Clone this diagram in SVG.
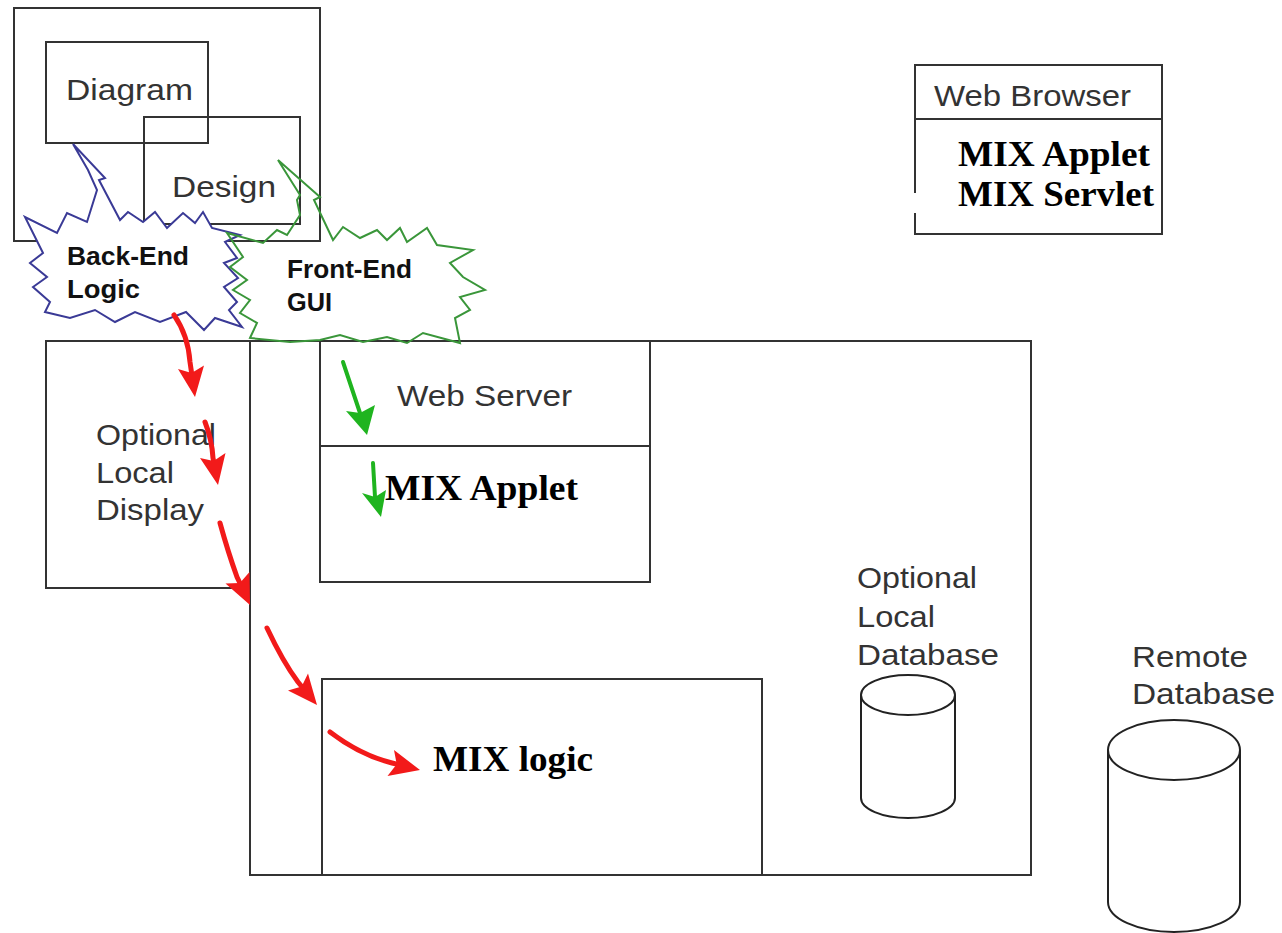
<svg xmlns="http://www.w3.org/2000/svg" width="1282" height="933" viewBox="0 0 1282 933">
<style>
.box{fill:none;stroke:#333;stroke-width:2}
.lbl{font-family:"Liberation Sans",Arial,sans-serif;fill:#333;font-size:30px}
.bold{font-family:"Liberation Sans",Arial,sans-serif;font-weight:bold;fill:#111;font-size:25px}
.mix{font-family:"Liberation Serif","Times New Roman",serif;font-weight:bold;fill:#000;font-size:35px}
.red{fill:none;stroke:#f21a1a;stroke-width:5;stroke-linecap:round}
.redh{fill:#f21a1a;stroke:none}
.grn{fill:none;stroke:#1fb41f;stroke-width:4;stroke-linecap:round}
.grnh{fill:#1fb41f;stroke:none}
.cyl{fill:none;stroke:#222;stroke-width:2}
</style>
<rect width="1282" height="933" fill="#fff"/>

<g id="tool-frame"><rect class="box" x="14" y="8" width="306" height="233"/></g>
<g id="diagram"><rect class="box" x="46" y="42" width="162" height="101"/><text class="lbl" x="66" y="100" textLength="127" lengthAdjust="spacingAndGlyphs">Diagram</text></g>
<g id="design"><rect class="box" x="144" y="117" width="156" height="107"/><text class="lbl" x="172" y="197" textLength="104" lengthAdjust="spacingAndGlyphs">Design</text></g>

<g id="back-end-logic">
<polygon fill="#fff" stroke="#3a3a96" stroke-width="2" points="73,144 105,178 99,180 120,220 128,212 143,222 155,212 167,228 183,213 195,223 203,212 212,228 240,235 225,242 237,258 224,263 238,278 224,287 237,302 229,310 242,327 215,318 204,330 186,312 160,322 135,312 115,322 95,310 70,318 45,312 50,302 33,287 47,277 30,263 43,253 25,217 57,233 67,213 87,222 97,190 88,170"/>
<text class="bold" x="67" y="265" textLength="122" lengthAdjust="spacingAndGlyphs">Back-End</text>
<text class="bold" x="67" y="298" textLength="73" lengthAdjust="spacingAndGlyphs">Logic</text>
</g>

<g id="web-browser">
<path class="box" d="M915,193 V65 H1162 V234 H915 V213 M915,119 H1162"/>
<text class="lbl" x="934" y="106" textLength="197" lengthAdjust="spacingAndGlyphs">Web Browser</text>
<text class="mix" x="958" y="166" textLength="192" lengthAdjust="spacingAndGlyphs">MIX Applet</text>
<text class="mix" x="958" y="206" textLength="196" lengthAdjust="spacingAndGlyphs">MIX Servlet</text>
</g>

<g id="server-machine"><rect class="box" x="250" y="341" width="781" height="534"/></g>

<g id="optional-local-display">
<rect class="box" x="46" y="341" width="204" height="247"/>
<text class="lbl" x="96" y="445" textLength="120" lengthAdjust="spacingAndGlyphs">Optional</text>
<text class="lbl" x="96" y="483" textLength="78" lengthAdjust="spacingAndGlyphs">Local</text>
<text class="lbl" x="96" y="520" textLength="108" lengthAdjust="spacingAndGlyphs">Display</text>
</g>

<g id="web-server">
<path class="box" d="M320,341 V582 H650 V341 M320,446 H650"/>
<text class="lbl" x="397" y="406" textLength="175" lengthAdjust="spacingAndGlyphs">Web Server</text>
<text class="mix" x="385" y="500" textLength="193" lengthAdjust="spacingAndGlyphs">MIX Applet</text>
</g>

<g id="front-end-gui">
<polygon fill="none" stroke="#3a963a" stroke-width="2" points="278,160 320,197 314,200 333,240 343,227 360,238 377,230 387,240 400,228 407,242 427,228 437,245 473,250 450,263 463,277 485,290 460,297 470,310 455,318 460,343 423,333 407,343 387,337 363,342 340,335 320,340 290,342 250,338 257,323 240,313 250,300 233,290 247,280 230,267 243,257 227,233 263,243 277,230 287,235 300,215 297,200 300,195"/>
<text class="bold" x="287" y="278" textLength="125" lengthAdjust="spacingAndGlyphs">Front-End</text>
<text class="bold" x="287" y="311" textLength="45" lengthAdjust="spacingAndGlyphs">GUI</text>
</g>

<g id="mix-logic">
<path class="box" d="M322,875 V679 H762 V875"/>
<text class="mix" x="433" y="771" font-size="36" textLength="160" lengthAdjust="spacingAndGlyphs">MIX logic</text>
</g>

<g id="optional-local-database">
<text class="lbl" x="857" y="588" textLength="120" lengthAdjust="spacingAndGlyphs">Optional</text>
<text class="lbl" x="857" y="627" textLength="78" lengthAdjust="spacingAndGlyphs">Local</text>
<text class="lbl" x="857" y="665" textLength="142" lengthAdjust="spacingAndGlyphs">Database</text>
<ellipse class="cyl" cx="908" cy="695" rx="47" ry="20"/>
<path class="cyl" d="M861,695 V798 A47,20 0 0 0 955,798 V695"/>
</g>

<g id="remote-database">
<text class="lbl" x="1132" y="667" textLength="116" lengthAdjust="spacingAndGlyphs">Remote</text>
<text class="lbl" x="1132" y="704" textLength="143" lengthAdjust="spacingAndGlyphs">Database</text>
<ellipse class="cyl" cx="1174" cy="750" rx="66" ry="30"/>
<path class="cyl" d="M1108,750 V902 A66,30 0 0 0 1240,902 V750"/>
</g>

<g id="connectors">
<path class="red" d="M174,315 Q188,335 190,362 L191.6,373"/>
<polygon class="redh" points="195,397 178,369 191.6,373 204,365.5"/>
<path class="red" d="M205,422 Q212,440 213,458 L213.6,461"/>
<polygon class="redh" points="218,485 200,458 213.6,461 225.5,453"/>
<path class="red" d="M220,523 Q228,552 237,577 L239.9,583"/>
<polygon class="redh" points="250,605 225.5,583.5 239.9,583 249.5,572"/>
<path class="red" d="M267,628 Q283,662 298,682 L301.7,686.5"/>
<polygon class="redh" points="317,705 288,690.5 301.7,686.5 308,673.5"/>
<path class="red" d="M330,732 Q360,755 392,763 L396.7,764.2"/>
<polygon class="redh" points="420,770 387.5,776 396.7,764.2 394,750"/>
<path class="grn" d="M343,362 L360,413"/>
<polygon class="grnh" points="367,435 346,411 360,413 375,405"/>
<path class="grn" d="M373,463 L375,497"/>
<polygon class="grnh" points="381,517 362,493 375,497 386,490"/>
</g>
</svg>
